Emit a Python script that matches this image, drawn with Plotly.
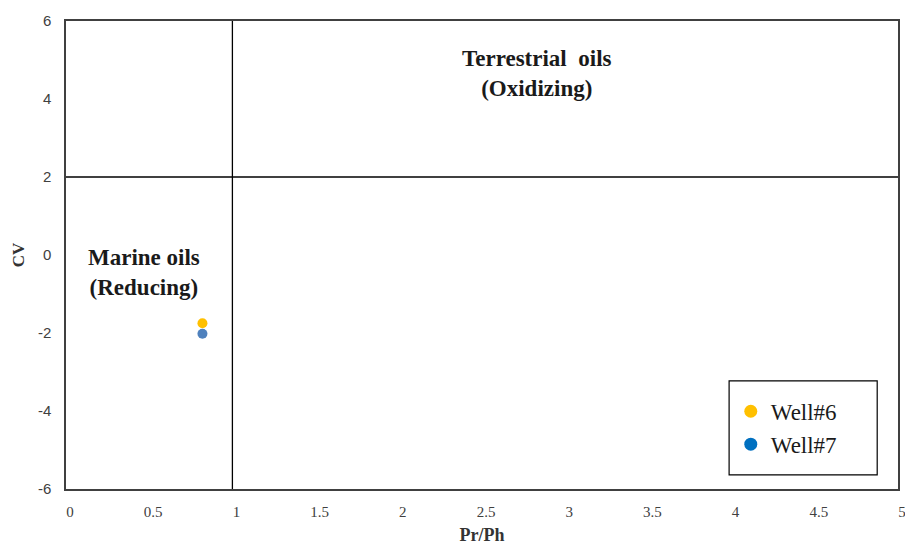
import plotly.graph_objects as go

# Pristane/phytane ratio against canonical variable (CV)
wells = ["Well#6", "Well#7"]
pr_ph = [0.82, 0.82]
cv = [-1.75, -2.02]
point_colors = ["#FFC000", "#4F81BD"]
legend_colors = ["#FFC000", "#0070C0"]

x_ticks = [0, 0.5, 1, 1.5, 2, 2.5, 3, 3.5, 4, 4.5, 5]
y_ticks = [-6, -4, -2, 0, 2, 4, 6]

# Boundaries between the environment fields
pr_ph_split = 1
cv_split = 2

serif = "Times New Roman, Liberation Serif, DejaVu Serif, serif"
sans = "Liberation Sans, Arial, sans-serif"

fig = go.Figure()

for name, x, y, c in zip(wells, pr_ph, cv, point_colors):
    fig.add_trace(go.Scatter(
        x=[x], y=[y], mode="markers", name=name, showlegend=False,
        marker=dict(color=c, size=10, line=dict(width=0)),
    ))

# Legend entries
for name, c in zip(wells, legend_colors):
    fig.add_trace(go.Scatter(
        x=[None], y=[None], mode="markers", name=name,
        marker=dict(color=c, size=13),
    ))

fig.add_shape(type="line", xref="x", yref="paper", x0=pr_ph_split, x1=pr_ph_split,
              y0=0, y1=1, line=dict(color="#000000", width=1.3))
fig.add_shape(type="line", xref="paper", yref="y", x0=0, x1=1,
              y0=cv_split, y1=cv_split, line=dict(color="#000000", width=1.3))

# Frame around the legend
fig.add_shape(type="rect", xref="paper", yref="paper", x0=0.797, x1=0.975,
              y0=0.030, y1=0.231, line=dict(color="#000000", width=1.2),
              fillcolor="white", layer="below")

fig.add_annotation(x=2.83, y=4.65, xref="x", yref="y", showarrow=False,
                   text="<b>Terrestrial\u00a0\u00a0oils</b><br><b>(Oxidizing)</b>",
                   font=dict(family=serif, size=23, color="#1a1a1a"), align="center")
fig.add_annotation(x=0.47, y=-0.45, xref="x", yref="y", showarrow=False,
                   text="<b>Marine oils</b><br><b>(Reducing)</b>",
                   font=dict(family=serif, size=23, color="#1a1a1a"), align="center")

axis_common = dict(
    showgrid=False, zeroline=False, showline=True, mirror=True,
    linecolor="#404040", linewidth=1.5, ticks="", automargin=False,
)

fig.update_xaxes(range=[0, 5], tickvals=x_ticks,
                 ticktext=[f"{v:g}" for v in x_ticks],
                 tickfont=dict(family=serif, size=15, color="#404040"),
                 title=dict(text="<b>Pr/Ph</b>", font=dict(family=serif, size=18, color="#333333"),
                            standoff=10),
                 ticklabelstandoff=8, ticklabelshift=4, ticklabeloverflow="allow",
                 **axis_common)
fig.update_yaxes(range=[-6, 6], tickvals=y_ticks,
                 ticktext=[f"{v:g}" for v in y_ticks],
                 tickfont=dict(family=sans, size=15, color="#404040"),
                 title=dict(text="<b>CV</b>", font=dict(family=serif, size=17, color="#333333"),
                            standoff=9),
                 ticklabelstandoff=10, **axis_common)

fig.update_layout(
    width=905, height=548,
    margin=dict(l=66, r=7, t=21, b=59),
    paper_bgcolor="white", plot_bgcolor="white",
    legend=dict(x=0.799, y=0.212, xanchor="left", yanchor="top",
                borderwidth=0, bgcolor="rgba(0,0,0,0)",
                font=dict(family=serif, size=23, color="#1a1a1a"),
                itemwidth=30, tracegroupgap=0),
    showlegend=True,
)

fig.write_html("out.html")
